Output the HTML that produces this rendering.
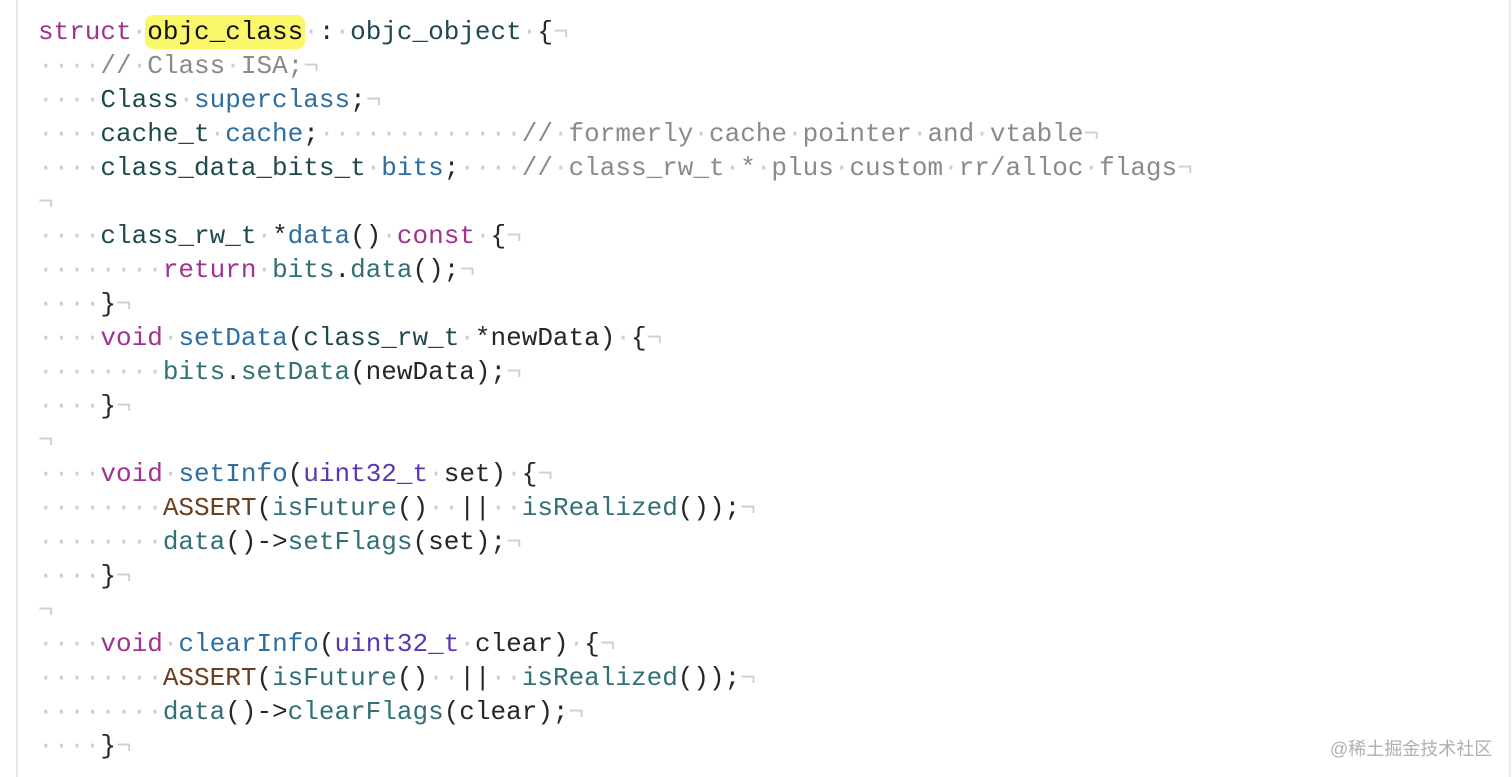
<!DOCTYPE html>
<html><head><meta charset="utf-8"><style>
html,body{margin:0;padding:0;background:#fff;width:1512px;height:777px;overflow:hidden;position:relative}
.bl{position:absolute;left:16px;top:0;width:2px;height:777px;background:#e6e6e6}
.br{position:absolute;left:1509px;top:0;width:2px;height:777px;background:#ececec}
pre{position:absolute;left:38px;top:15px;margin:0;font-family:"Liberation Mono",monospace;font-size:26px;line-height:34px;color:#262626}
.d{color:#cfcfcf}
.k{color:#a0338f}
.t{color:#1f4a4d}
.p{color:#2e6ea0}
.c{color:#8a8a8a}
.f{color:#327075}
.s{color:#5b36b0}
.m{color:#6a3e1e}
.hl{background:#fbf76a;border-radius:6px;box-shadow:0 0 0 2px #fbf76a;color:#111}
.wm{position:absolute;left:1330px;top:735px;font-family:"Liberation Sans","Noto Sans CJK SC",sans-serif;font-size:18px;color:#b0b0b0}
</style></head><body>
<div class="bl"></div><div class="br"></div>
<pre><span class="k">struct</span><span class="d">·</span><span class="hl">objc_class</span><span class="d">·</span>:<span class="d">·</span><span class="t">objc_object</span><span class="d">·</span>{<span class="d">¬</span>
<span class="d">····</span><span class="c">//<span class="d">·</span>Class<span class="d">·</span>ISA;</span><span class="d">¬</span>
<span class="d">····</span><span class="t">Class</span><span class="d">·</span><span class="p">superclass</span>;<span class="d">¬</span>
<span class="d">····</span><span class="t">cache_t</span><span class="d">·</span><span class="p">cache</span>;<span class="d">·············</span><span class="c">//<span class="d">·</span>formerly<span class="d">·</span>cache<span class="d">·</span>pointer<span class="d">·</span>and<span class="d">·</span>vtable</span><span class="d">¬</span>
<span class="d">····</span><span class="t">class_data_bits_t</span><span class="d">·</span><span class="p">bits</span>;<span class="d">····</span><span class="c">//<span class="d">·</span>class_rw_t<span class="d">·</span>*<span class="d">·</span>plus<span class="d">·</span>custom<span class="d">·</span>rr/alloc<span class="d">·</span>flags</span><span class="d">¬</span>
<span class="d">¬</span>
<span class="d">····</span><span class="t">class_rw_t</span><span class="d">·</span>*<span class="p">data</span>()<span class="d">·</span><span class="k">const</span><span class="d">·</span>{<span class="d">¬</span>
<span class="d">········</span><span class="k">return</span><span class="d">·</span><span class="f">bits</span>.<span class="f">data</span>();<span class="d">¬</span>
<span class="d">····</span>}<span class="d">¬</span>
<span class="d">····</span><span class="k">void</span><span class="d">·</span><span class="p">setData</span>(<span class="t">class_rw_t</span><span class="d">·</span>*newData)<span class="d">·</span>{<span class="d">¬</span>
<span class="d">········</span><span class="f">bits</span>.<span class="f">setData</span>(newData);<span class="d">¬</span>
<span class="d">····</span>}<span class="d">¬</span>
<span class="d">¬</span>
<span class="d">····</span><span class="k">void</span><span class="d">·</span><span class="p">setInfo</span>(<span class="s">uint32_t</span><span class="d">·</span>set)<span class="d">·</span>{<span class="d">¬</span>
<span class="d">········</span><span class="m">ASSERT</span>(<span class="f">isFuture</span>()<span class="d">··</span>||<span class="d">··</span><span class="f">isRealized</span>());<span class="d">¬</span>
<span class="d">········</span><span class="f">data</span>()-&gt;<span class="f">setFlags</span>(set);<span class="d">¬</span>
<span class="d">····</span>}<span class="d">¬</span>
<span class="d">¬</span>
<span class="d">····</span><span class="k">void</span><span class="d">·</span><span class="p">clearInfo</span>(<span class="s">uint32_t</span><span class="d">·</span>clear)<span class="d">·</span>{<span class="d">¬</span>
<span class="d">········</span><span class="m">ASSERT</span>(<span class="f">isFuture</span>()<span class="d">··</span>||<span class="d">··</span><span class="f">isRealized</span>());<span class="d">¬</span>
<span class="d">········</span><span class="f">data</span>()-&gt;<span class="f">clearFlags</span>(clear);<span class="d">¬</span>
<span class="d">····</span>}<span class="d">¬</span></pre>
<div class="wm">@稀土掘金技术社区</div>
</body></html>
